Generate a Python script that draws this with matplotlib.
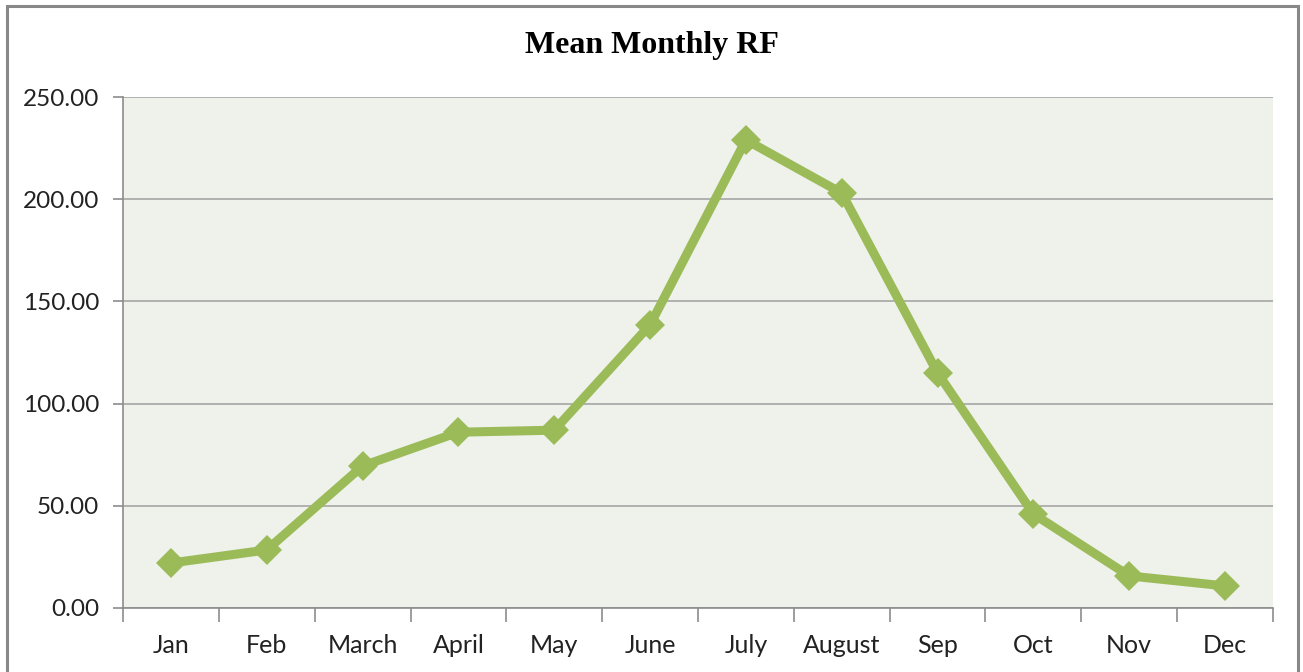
import numpy as np
import matplotlib.pyplot as plt
import matplotlib.patches as mpatches

months = ['Jan', 'Feb', 'March', 'April', 'May', 'June', 'July',
          'August', 'Sep', 'Oct', 'Nov', 'Dec']
rainfall = [22.0, 28.4, 69.5, 86.0, 87.0, 138.5, 229.0, 203.0, 115.0, 46.0, 15.7, 10.8]
y_ticks = [0, 50, 100, 150, 200, 250]

line_color = '#9bbb59'
grid_color = '#a6a6a6'

fig = plt.figure(figsize=(13.03, 6.72), dpi=100)
ax = fig.add_axes([123 / 1303, 64 / 672, 1150 / 1303, 511 / 672])
ax.set_facecolor('#eff2ea')

x = np.arange(len(months))
ax.plot(x, rainfall, color=line_color, lw=6.5, marker='D', ms=15,
        mec=line_color, mew=0, solid_joinstyle='miter', zorder=3)

ax.set_xlim(-0.5, len(months) - 0.5)
ax.set_ylim(0, 250)

ax.set_yticks(y_ticks)
ax.set_yticklabels([f'{v:.2f}' for v in y_ticks], fontsize=17.5,
                   family='Lato', color='#222222')
ax.yaxis.grid(True, color=grid_color, lw=1.2)
ax.set_axisbelow(True)

ax.set_xticks(x)
ax.set_xticklabels(months, fontsize=18, family='Lato', color='#222222')
ax.set_xticks(np.arange(-0.5, len(months)), minor=True)
ax.tick_params(axis='x', which='major', length=0, pad=19)
ax.tick_params(axis='x', which='minor', length=10, width=1.2, color='#8c8c8c')
ax.tick_params(axis='y', length=7, width=1.2, color='#8c8c8c', pad=10)

for side in ['top', 'right']:
    ax.spines[side].set_visible(False)
for side in ['left', 'bottom']:
    ax.spines[side].set_color('#8c8c8c')
    ax.spines[side].set_linewidth(1.2)

fig.text(0.5, 0.933, 'Mean Monthly RF', ha='center', va='center',
         fontsize=23, fontweight='bold', family='Liberation Serif')

border = mpatches.Rectangle((7 / 1303, -0.05), 1291 / 1303, 1 - 6 / 672 + 0.05,
                            transform=fig.transFigure, fill=False,
                            edgecolor='#888888', lw=2.2)
fig.patches.append(border)

plt.savefig('out.png', dpi=100, facecolor='white')
